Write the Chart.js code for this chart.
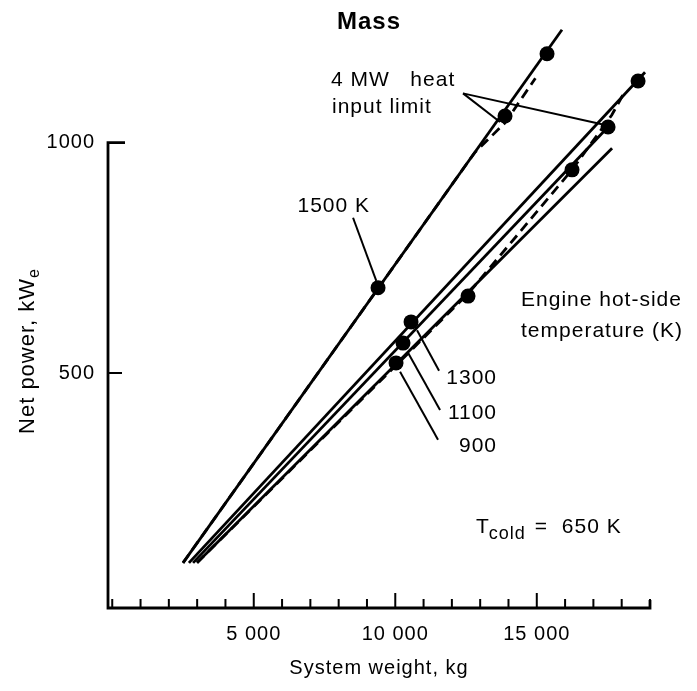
<!DOCTYPE html>
<html>
<head>
<meta charset="utf-8">
<title>Mass</title>
<script src="https://cdn.jsdelivr.net/npm/chart.js@4.4.0/dist/chart.umd.min.js"></script>
<style>
  html, body { margin: 0; padding: 0; background: #fff; }
  #wrap { width: 697px; height: 691px; }
</style>
</head>
<body>
<div id="wrap"><canvas id="massChart" width="697" height="691"></canvas></div>
<script>
// System weight (kg) vs net power (kWe), T cold = 650 K
const line1500 = [{ x: 2500, y: 88 }, { x: 15890, y: 1245 }];
const dash1500 = [{ x: 2500, y: 88 }, { x: 12800, y: 978 }, { x: 13878, y: 1043 }, { x: 14950, y: 1140 }];
const line1300 = [{ x: 2710, y: 88 }, { x: 18825, y: 1153 }];
const line1100 = [{ x: 2855, y: 88 }, { x: 17518, y: 1034 }];
const line900 = [{ x: 2996, y: 88 }, { x: 17660, y: 988 }];
const dashCluster = [{ x: 2996, y: 88 }, { x: 12571, y: 672 }, { x: 16245, y: 941 }, { x: 17650, y: 1060 }, { x: 18100, y: 1110 }];

const dots1500 = [{ x: 9391, y: 685 }, { x: 13878, y: 1058 }, { x: 15362, y: 1193 }];
const dotsCluster = [
  { x: 10557, y: 611 }, // 1300
  { x: 10274, y: 565 }, // 1100
  { x: 10027, y: 522 }, // 900
  { x: 12571, y: 667 },
  { x: 16245, y: 941 },
  { x: 17518, y: 1034 },
  { x: 18578, y: 1134 },
];

const xMinorTicks = [0, 1000, 2000, 3000, 4000, 6000, 7000, 8000, 9000, 11000, 12000, 13000, 14000, 16000, 17000, 18000, 19000];
const xLabelTicks = [5000, 10000, 15000];
const yLabelTicks = [500, 1000];

const X_MIN = -150, X_MAX = 19000;
const Y_MIN = -10, Y_MAX = 1250;

const FONT = '"Liberation Sans", Arial, Helvetica, sans-serif';

// leader lines, in data units
const leaders = [
  [{ x: 12394, y: 1107 }, { x: 13700, y: 1045 }],
  [{ x: 12394, y: 1107 }, { x: 17300, y: 1040 }],
  [{ x: 8508, y: 837 }, { x: 9330, y: 700 }],
  [{ x: 10769, y: 593 }, { x: 11547, y: 505 }],
  [{ x: 10451, y: 544 }, { x: 11582, y: 420 }],
  [{ x: 10169, y: 503 }, { x: 11511, y: 355 }],
];

const labels = [
  { text: "4 MW   heat", x: 7730, y: 1136, align: "left" },
  { text: "input limit", x: 7765, y: 1076, align: "left" },
  { text: "1500 K", x: 9108, y: 863, align: "right" },
  { text: "Engine hot-side", x: 14443, y: 658, align: "left" },
  { text: "temperature (K)", x: 14443, y: 591, align: "left" },
  { text: "1300", x: 13596, y: 489, align: "right" },
  { text: "1100", x: 13596, y: 413, align: "right" },
  { text: "900", x: 13596, y: 341, align: "right" },
];

function lineSet(data, dashed) {
  return {
    data: data,
    showLine: true,
    borderColor: "#000",
    borderWidth: 2.8,
    borderDash: dashed ? [10, 6] : [],
    pointRadius: 0,
    clip: false,
  };
}

function dotSet(data) {
  return {
    data: data,
    showLine: false,
    pointRadius: 7.5,
    pointBackgroundColor: "#000",
    pointBorderColor: "#000",
    pointBorderWidth: 0,
    clip: false,
  };
}

const paperPlugin = {
  id: "paperPlugin",
  beforeDraw(chart) {
    chart.ctx.letterSpacing = "1px";
  },
  afterDraw(chart) {
    const { ctx, chartArea } = chart;
    const xs = chart.scales.x;
    const ys = chart.scales.y;
    const px = (v) => xs.getPixelForValue(v);
    const py = (v) => ys.getPixelForValue(v);
    const x0 = px(X_MIN);
    const yBase = py(Y_MIN);

    ctx.save();
    ctx.strokeStyle = "#000";
    ctx.fillStyle = "#000";
    ctx.lineWidth = 2.8;

    // axes
    ctx.beginPath();
    ctx.moveTo(x0 + 17, py(1000));
    ctx.lineTo(x0, py(1000));
    ctx.lineTo(x0, yBase);
    ctx.lineTo(px(X_MAX), yBase);
    ctx.lineTo(px(X_MAX), yBase - 8);
    ctx.stroke();

    ctx.lineWidth = 2;
    ctx.beginPath();
    ctx.moveTo(x0, py(500));
    ctx.lineTo(x0 + 14, py(500));
    xMinorTicks.forEach((v) => {
      ctx.moveTo(px(v), yBase);
      ctx.lineTo(px(v), yBase - 9);
    });
    xLabelTicks.forEach((v) => {
      ctx.moveTo(px(v), yBase);
      ctx.lineTo(px(v), yBase - 15);
    });
    ctx.stroke();

    // leaders
    ctx.lineWidth = 2;
    leaders.forEach((l) => {
      ctx.beginPath();
      ctx.moveTo(px(l[0].x), py(l[0].y));
      ctx.lineTo(px(l[1].x), py(l[1].y));
      ctx.stroke();
    });

    // text
    ctx.font = "21px " + FONT;
    ctx.textBaseline = "middle";
    labels.forEach((t) => {
      ctx.textAlign = t.align;
      ctx.fillText(t.text, px(t.x), py(t.y));
    });

    // T cold = 650 K
    let tx = px(12853);
    const ty = py(166);
    ctx.textAlign = "left";
    ctx.fillText("T", tx, ty);
    tx += ctx.measureText("T").width - 1;
    ctx.font = "18px " + FONT;
    ctx.fillText("cold", tx, ty + 7);
    tx += ctx.measureText("cold").width + 9;
    ctx.font = "21px " + FONT;
    ctx.fillText("=  650 K", tx, ty);

    // title
    ctx.font = "bold 24px " + FONT;
    ctx.textAlign = "center";
    ctx.fillText("Mass", 369, 22);

    // x title
    ctx.font = "20px " + FONT;
    ctx.fillText("System weight, kg", (chartArea.left + chartArea.right) / 2, 668);

    // y title with subscript
    ctx.translate(28, 351);
    ctx.rotate(-Math.PI / 2);
    const main = "Net power, kW";
    ctx.font = "22px " + FONT;
    const wMain = ctx.measureText(main).width;
    ctx.font = "16px " + FONT;
    const wSub = ctx.measureText("e").width;
    const start = -(wMain + wSub) / 2;
    ctx.textAlign = "left";
    ctx.font = "22px " + FONT;
    ctx.fillText(main, start, 0);
    ctx.font = "16px " + FONT;
    ctx.fillText("e", start + wMain, 7);
    ctx.restore();
  },
};

function initChart() {
  const ctx = document.getElementById("massChart").getContext("2d");
  return new Chart(ctx, {
    type: "scatter",
    data: {
      datasets: [
        lineSet(line1500, false),
        lineSet(dash1500, true),
        lineSet(line1300, false),
        lineSet(line1100, false),
        lineSet(line900, false),
        lineSet(dashCluster, true),
        dotSet(dots1500),
        dotSet(dotsCluster),
      ],
    },
    options: {
      responsive: false,
      animation: false,
      devicePixelRatio: 1,
      layout: { padding: { left: 48, right: 47, top: 27.5, bottom: 43 } },
      plugins: { legend: { display: false }, tooltip: { enabled: false } },
      scales: {
        x: {
          type: "linear",
          min: X_MIN,
          max: X_MAX,
          grid: { display: false, drawTicks: false },
          border: { display: false },
          afterBuildTicks: (s) => { s.ticks = xLabelTicks.map((v) => ({ value: v })); },
          afterFit: (s) => { s.height = 40; },
          ticks: {
            color: "#000",
            padding: 14,
            maxRotation: 0,
            font: { family: FONT, size: 20 },
            callback: (v) => String(v).replace(/\B(?=(\d{3})+(?!\d))/g, " "),
          },
        },
        y: {
          type: "linear",
          min: Y_MIN,
          max: Y_MAX,
          grid: { display: false, drawTicks: false },
          border: { display: false },
          afterBuildTicks: (s) => { s.ticks = yLabelTicks.map((v) => ({ value: v })); },
          afterFit: (s) => { s.width = 60; },
          ticks: {
            color: "#000",
            padding: 13,
            font: { family: FONT, size: 20 },
            callback: (v) => String(v),
          },
        },
      },
    },
    plugins: [paperPlugin],
  });
}

initChart();
</script>
</body>
</html>
